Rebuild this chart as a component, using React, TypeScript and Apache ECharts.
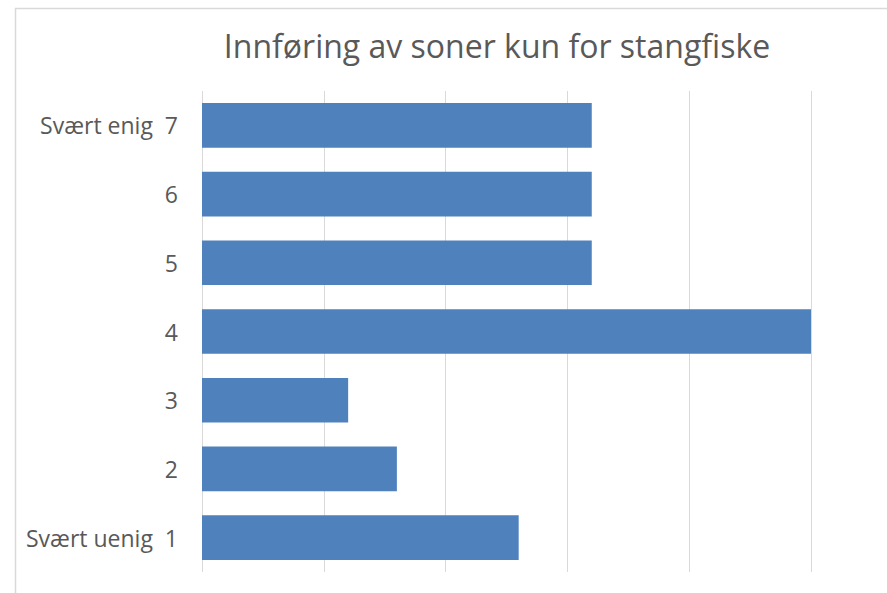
import React, { useEffect, useRef } from "react";
import * as echarts from "echarts";

const titleText = "Innføring av soner kun for stangfiske";
const categories = ["Svært uenig  1", "2", "3", "4", "5", "6", "Svært enig  7"];
const values = [13, 8, 6, 25, 16, 16, 16];
const axisMax = 25;
const axisInterval = 5;

export default function App() {
  const ref = useRef<HTMLDivElement>(null);
  useEffect(() => {
    document.body.style.margin = "0";
    const chart = echarts.init(ref.current!, undefined, { renderer: "svg" });
    chart.setOption({
      animation: false,
      backgroundColor: "#ffffff",
      title: {
        text: titleText,
        left: 492,
        textAlign: "center",
        top: 24,
        textStyle: {
          fontFamily: "Open Sans",
          fontSize: 32,
          fontWeight: "normal",
          color: "#595959",
        },
      },
      graphic: [
        {
          type: "rect",
          shape: { x: 15.5, y: 8.5, width: 1000, height: 1000 },
          style: { fill: "none", stroke: "#d9d9d9", lineWidth: 1.5 },
          silent: true,
        },
      ],
      grid: { left: 202, right: 76, top: 91, bottom: 21 },
      xAxis: {
        type: "value",
        min: 0,
        max: axisMax,
        interval: axisInterval,
        axisLabel: { show: false },
        axisLine: { show: false },
        axisTick: { show: false },
        splitLine: { show: true, lineStyle: { color: "#d9d9d9", width: 1 } },
      },
      yAxis: {
        type: "category",
        data: categories,
        axisLine: { show: false },
        axisTick: { show: false },
        axisLabel: {
          margin: 24,
          fontFamily: "Open Sans",
          fontSize: 23,
          color: "#595959",
        },
      },
      series: [
        {
          type: "bar",
          data: values,
          barCategoryGap: "35%",
          itemStyle: { color: "#4f81bd" },
        },
      ],
    });
    return () => chart.dispose();
  }, []);
  return <div ref={ref} style={{ width: 887, height: 593 }} />;
}
